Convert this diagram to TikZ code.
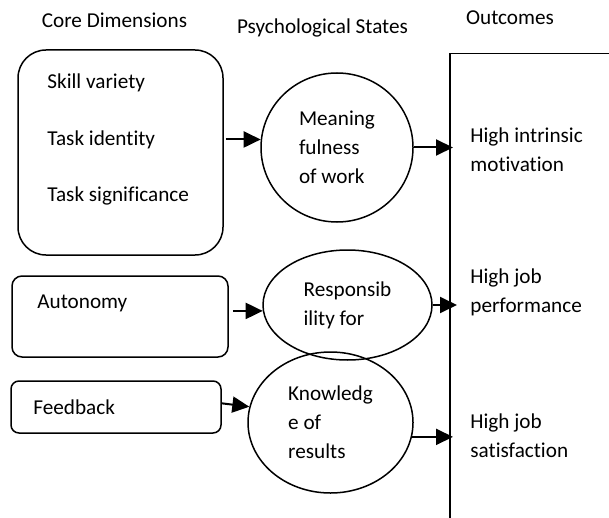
\documentclass[tikz,border=0pt]{standalone}
\usepackage{fontspec}
\setmainfont{Carlito}[Ligatures=CommonOff]
\usetikzlibrary{arrows.meta}
\usetikzlibrary{shapes.geometric}
\tikzset{arr/.style = {-{Triangle[length=8.5pt, width=8pt]}, line width=1pt}}
\tikzset{dimbox/.style = {draw, line width=0.75pt, inner sep=0}}
\tikzset{state/.style = {draw, ellipse, line width=0.75pt, inner sep=0, align=left}}
\tikzset{txt/.style = {inner sep=0, align=left}}

\begin{document}
\begin{tikzpicture}[x=0.5pt, y=-0.5pt, font=\fontsize{10.6}{14.6}\selectfont]
    \useasboundingbox (0, 0) rectangle (609, 518);
    \clip (0, 0) rectangle (609, 518);

    \node [txt] (tcore) at (114.5, 20) {Core Dimensions};
    \node [txt] (tstates) at (322.5, 28) {Psychological States};
    \node [txt] (tout) at (510, 18) {Outcomes};

    \node [dimbox, rounded corners=14pt, minimum width=102.5pt, minimum height=102.5pt] (core) at (120.5, 152.5) {};
    \node [txt, anchor=west] (skill) at (47, 83) {Skill variety};
    \node [txt, anchor=west] (ident) at (47, 140) {Task identity};
    \node [txt, anchor=west] (signif) at (47, 196) {Task significance};

    \node [dimbox, rounded corners=5pt, minimum width=108pt, minimum height=40.5pt] (auto) at (120, 316.5) {};
    \node [txt, anchor=west] (autotxt) at (37, 303) {Autonomy};

    \node [dimbox, rounded corners=4pt, minimum width=105pt, minimum height=26pt] (feed) at (116, 407) {};
    \node [txt, anchor=west] (feedtxt) at (33, 407) {Feedback};

    \node [state, minimum width=76pt, minimum height=74.5pt] (mean) at (337, 147.5) {Meaning\\fulness\\of work};
    \node [state, minimum width=84.5pt, minimum height=55pt] (resp) at (347.5, 305) {Responsib\\ility for};
    \node [state, minimum width=82.5pt, minimum height=70.5pt] (know) at (330.5, 422.5) {Knowledg\\e of\\results};

    \node [draw, line width=0.75pt, anchor=north west, minimum width=150pt, minimum height=250pt] (outbox) at (449, 53) {};
    \node [txt, anchor=west] (intr) at (470, 150) {High intrinsic\\motivation};
    \node [txt, anchor=west] (perf) at (470, 292) {High job\\performance};
    \node [txt, anchor=west] (satis) at (470, 435.5) {High job\\satisfaction};

    \draw [arr, shorten <=1pt] (mean.174 -| core.east) -- (mean.174);
    \draw [arr, shorten <=2pt] (resp.184 -| auto.east) -- (resp.184);
    \draw [arr] (feed.2) -- (know.169);

    \draw [arr, shorten >=-2pt] (mean.east) -- (mean.east -| outbox.west);
    \draw [arr, shorten >=-4pt] (resp.east) -- (resp.east -| outbox.west);
    \draw [arr, shorten >=-2pt] (know.-10) -- (know.-10 -| outbox.west);
\end{tikzpicture}
\end{document}
